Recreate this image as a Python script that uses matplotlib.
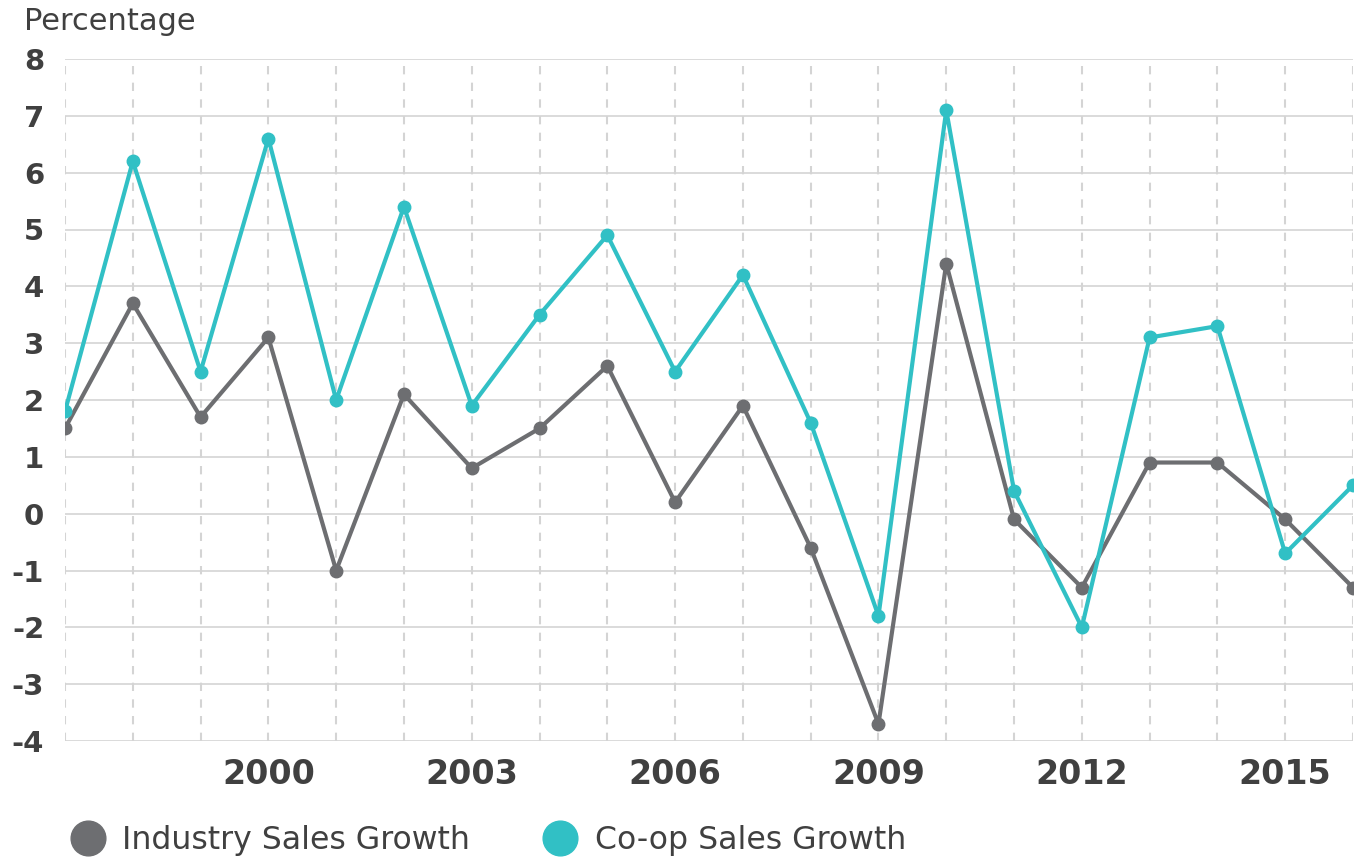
import matplotlib
matplotlib.use("Agg")
import matplotlib.pyplot as plt
from matplotlib.lines import Line2D

plt.rcParams['font.family'] = ['DejaVu Sans']

years = list(range(1997, 2017))
industry = [1.5, 3.7, 1.7, 3.1, -1.0, 2.1, 0.8, 1.5, 2.6, 0.2, 1.9, -0.6, -3.7, 4.4, -0.1, -1.3, 0.9, 0.9, -0.1, -1.3]
coop = [1.8, 6.2, 2.5, 6.6, 2.0, 5.4, 1.9, 3.5, 4.9, 2.5, 4.2, 1.6, -1.8, 7.1, 0.4, -2.0, 3.1, 3.3, -0.7, 0.5]
xtick_years = [2000, 2003, 2006, 2009, 2012, 2015]
yticks = list(range(-4, 9))
series_names = ["Industry Sales Growth", "Co-op Sales Growth"]

GRAY = "#6d6e71"
TEAL = "#31c0c5"
TXT = "#404040"
GRID = "#d4d4d4"

fig = plt.figure(figsize=(13.64, 8.59), dpi=100)
ax = fig.add_axes([65/1364, 1-741/859, 1288/1364, 682/859])

ax.set_xlim(years[0], years[-1])
ax.set_ylim(-4, 8)

for y in yticks:
    ax.axhline(y, color=GRID, lw=1.2, zorder=1)
for yr in years:
    ax.axvline(yr, color=GRID, lw=1.5, ls=(0, (4, 4)), zorder=1)

ax.plot(years, industry, color=GRAY, lw=3, marker='o', ms=9, zorder=3, label=series_names[0])
ax.plot(years, coop, color=TEAL, lw=3, marker='o', ms=9, zorder=4, label=series_names[1])

for s in ax.spines.values():
    s.set_visible(False)

ax.set_yticks(yticks)
ax.set_yticklabels([str(v) for v in yticks], fontsize=21, fontweight='bold', color=TXT)
ax.set_xticks(xtick_years)
ax.set_xticklabels([str(v) for v in xtick_years], fontsize=24, fontweight='bold', color=TXT)
ax.tick_params(axis='y', length=0, pad=15)
ax.tick_params(axis='x', length=0, pad=12)

fig.text(24/1364, 1-21/859, "Percentage", fontsize=22, color=TXT, va='center', ha='left')

handles = [Line2D([], [], marker='o', ls='none', color=GRAY, ms=25),
           Line2D([], [], marker='o', ls='none', color=TEAL, ms=25)]
fig.legend(handles, series_names, loc='center left', bbox_to_anchor=(56/1364, 1-841/859),
           ncol=2, frameon=False, fontsize=22.7, labelcolor=TXT, handletextpad=0.1,
           columnspacing=1.85, borderaxespad=0, borderpad=0)

fig.savefig("out.png", dpi=100)
